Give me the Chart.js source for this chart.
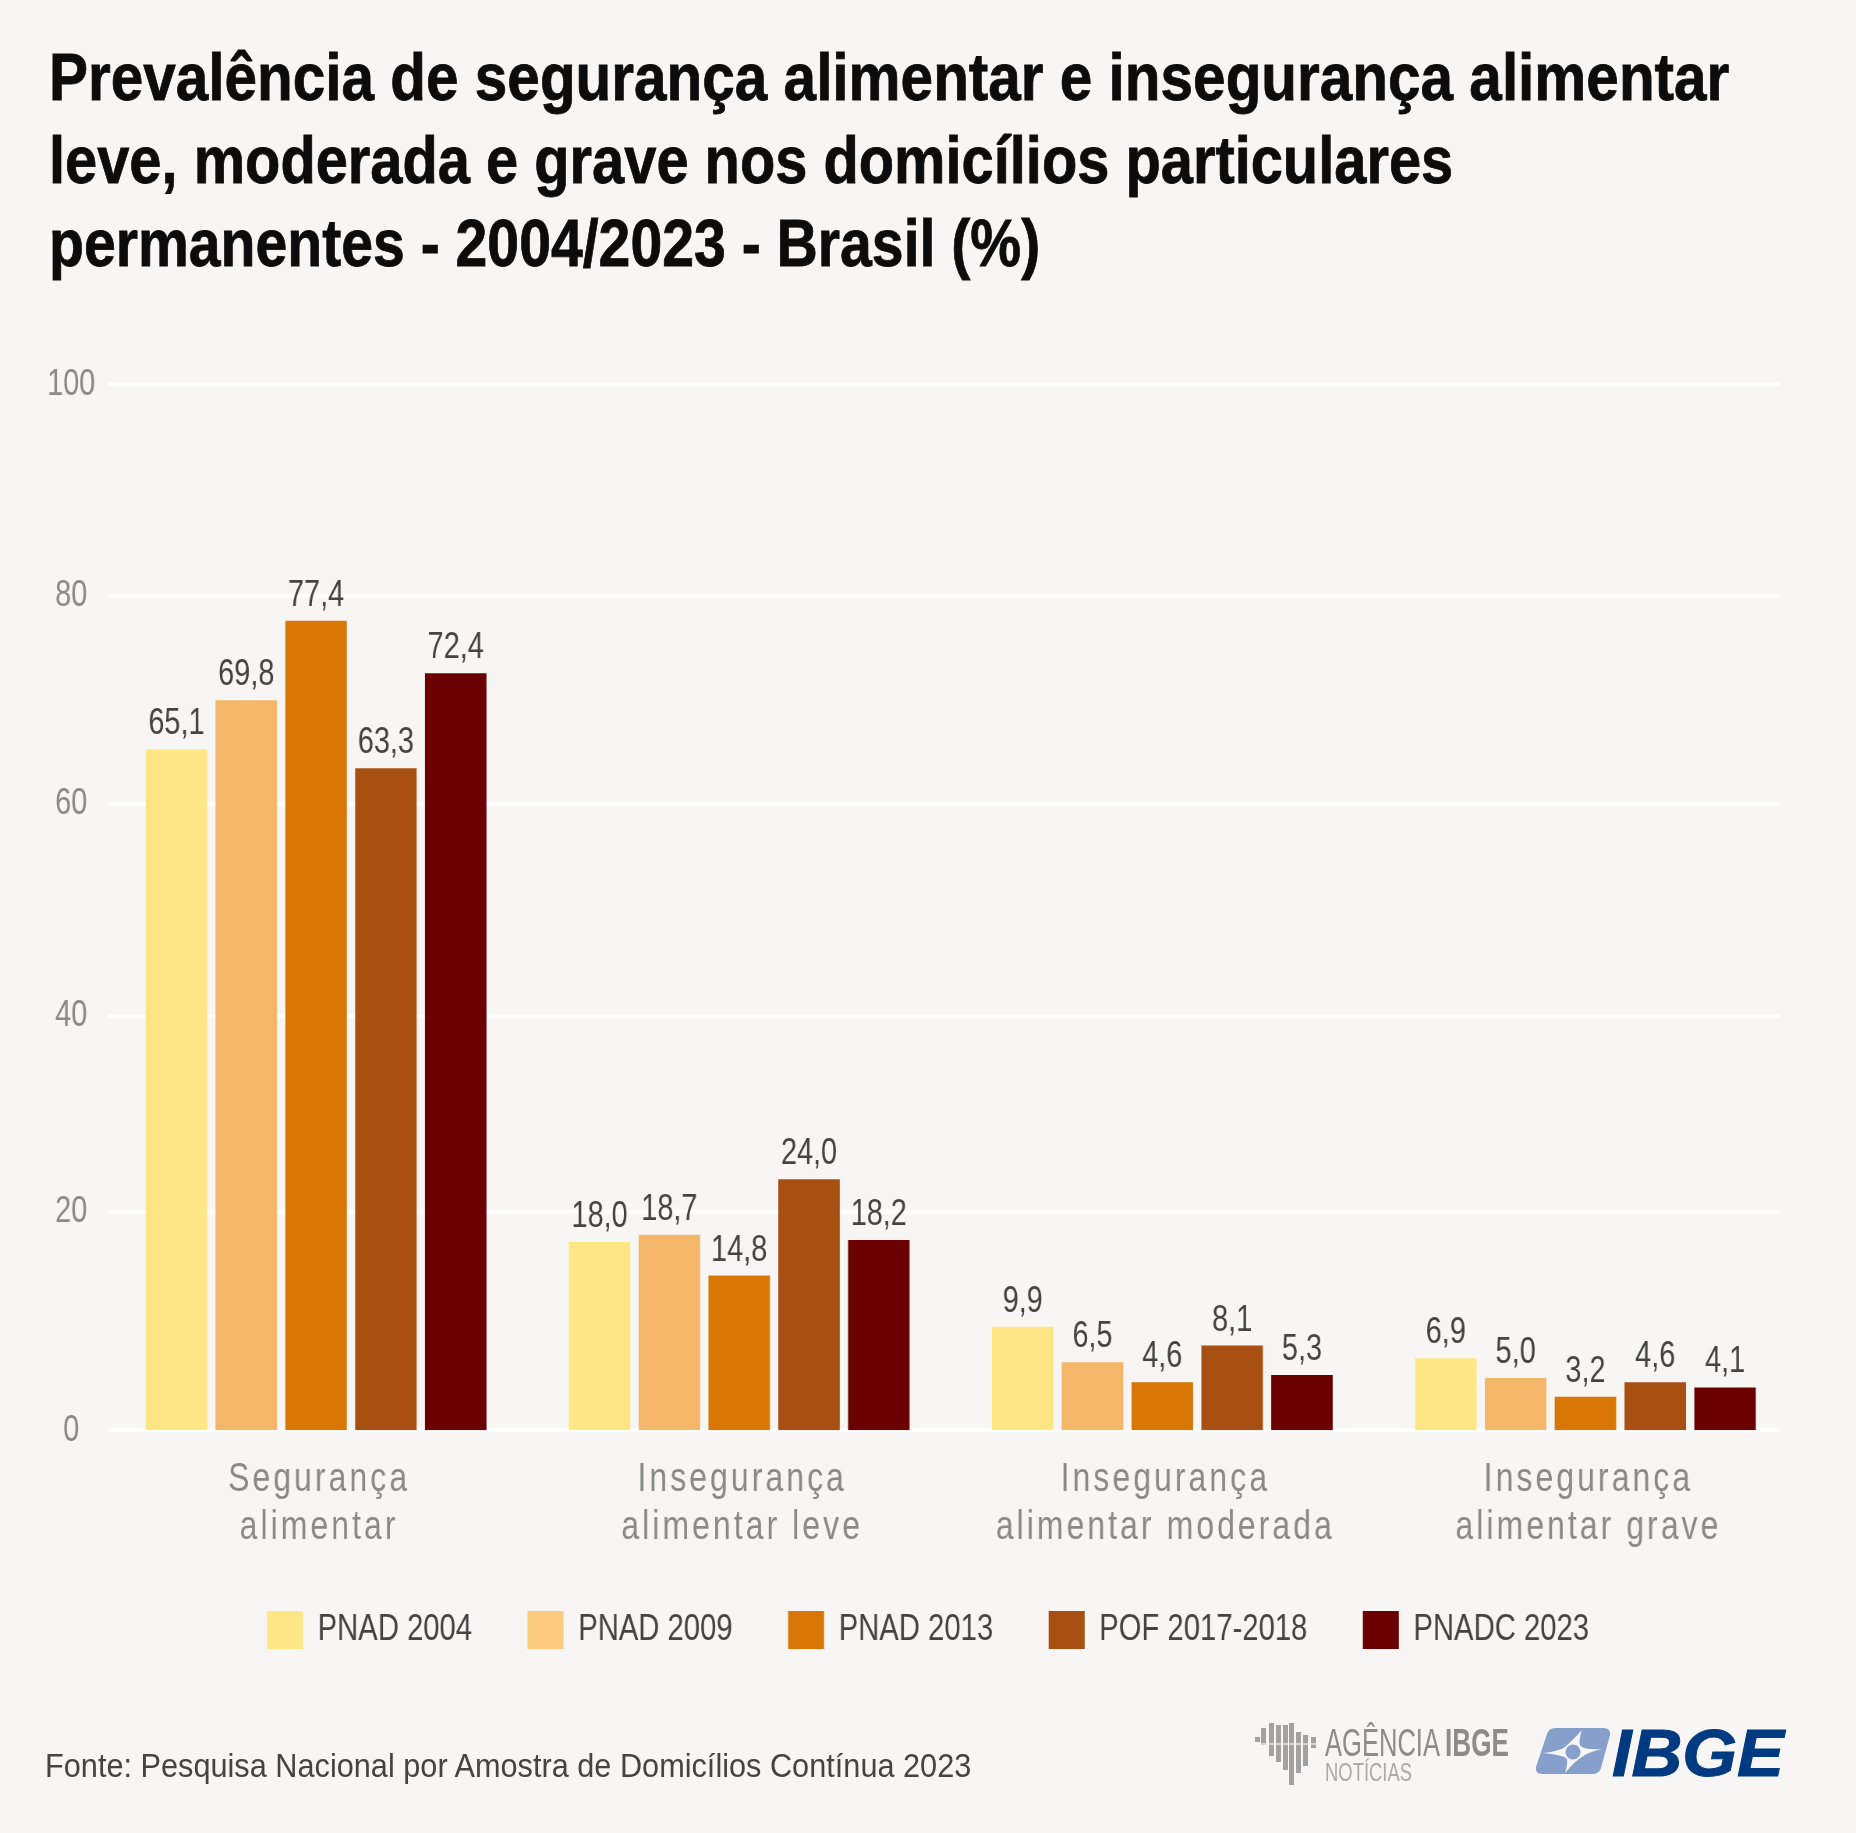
<!DOCTYPE html>
<html lang="pt-BR">
<head>
  <meta charset="UTF-8">
  <title>Prevalência de segurança alimentar</title>
  <script src="https://cdn.jsdelivr.net/npm/chart.js"></script>
  <style>
    html, body { margin: 0; background: #f7f6f5; }
    #page { position: relative; width: 1856px; height: 1833px; overflow: hidden; font-family: "Liberation Sans", sans-serif; }
    /* no condensed font installed: the canvas is drawn wider and squeezed, which condenses its text */
    canvas { position: absolute; left: 0; top: 0; transform-origin: left top; }
    h1 { position: absolute; left: 49px; top: 35.5px; margin: 0; font-size: 66px; line-height: 83px; font-weight: bold; color: #0c0c0c; white-space: nowrap; -webkit-text-stroke: 0.8px #0c0c0c; }
    h1 span { display: block; transform-origin: left top; }
    #fonte { position: absolute; left: 45px; top: 1743.5px; font-size: 33px; line-height: 44px; color: #444; white-space: nowrap; transform: scaleX(0.93); transform-origin: left top; }
    #logos { position: absolute; left: 1240px; top: 1710px; }
  </style>
</head>
<body>
  <div id="page">
    <canvas id="chart"></canvas>
    <h1><span style="transform: scaleX(0.886)">Prevalência de segurança alimentar e insegurança alimentar</span><span style="transform: scaleX(0.876)">leve, moderada e grave nos domicílios particulares</span><span style="transform: scaleX(0.866)">permanentes - 2004/2023 - Brasil (%)</span></h1>
    <div id="fonte">Fonte: Pesquisa Nacional por Amostra de Domicílios Contínua 2023</div>
    <svg id="logos" width="560" height="90" viewBox="0 0 560 90">
      <g fill="#a2a2a2">
        <rect x="15" y="27" width="5" height="5"/><rect x="21" y="18" width="5" height="17"/><rect x="29" y="13" width="5" height="33"/>
        <rect x="36" y="15" width="5" height="37"/><rect x="43" y="15" width="5" height="45"/><rect x="49" y="13" width="5" height="62"/>
        <rect x="56" y="22" width="5" height="41"/><rect x="63" y="25" width="5" height="31"/><rect x="71" y="27" width="5" height="11"/>
      </g>
      <rect x="15" y="33" width="61" height="2" fill="#f7f6f5" opacity="0.6"/>
      <text x="85" y="46" font-size="38" fill="#8c8c8c" textLength="115" lengthAdjust="spacingAndGlyphs">AGÊNCIA</text>
      <text x="205" y="46" font-weight="bold" font-size="38" fill="#8c8c8c" textLength="64" lengthAdjust="spacingAndGlyphs">IBGE</text>
      <text x="85" y="71" font-size="26" fill="#aaaaaa" textLength="87" lengthAdjust="spacingAndGlyphs">NOTÍCIAS</text>
      <path d="M307 24 Q309 18 315 18 H363 Q371 18 370 25 L361 58 Q359 64 352 64 H302 Q295 64 296 57 Z" fill="#86a0cb"/>
      <path d="M342 20 Q337 35 342 37 Q347 40 362 39 Q346 43 342 47 Q336 50 325 63 Q329 50 326 48 Q322 45 303 43 Q320 41 325 37 Q331 32 342 20 Z" fill="#f7f6f5"/>
      <circle cx="333" cy="42" r="7.5" fill="#86a0cb"/>
      <text x="372" y="66" font-weight="bold" font-style="italic" font-size="66" fill="#003a80" stroke="#003a80" stroke-width="1" textLength="172" lengthAdjust="spacingAndGlyphs">IBGE</text>
    </svg>
  </div>

  <script>
    const categories = [
      ['Segurança', 'alimentar'],
      ['Insegurança', 'alimentar leve'],
      ['Insegurança', 'alimentar moderada'],
      ['Insegurança', 'alimentar grave']
    ];
    const seriesNames = ['PNAD 2004', 'PNAD 2009', 'PNAD 2013', 'POF 2017-2018', 'PNADC 2023'];
    const pnad2004 = [65.1, 18.0, 9.9, 6.9];
    const pnad2009 = [69.8, 18.7, 6.5, 5.0];
    const pnad2013 = [77.4, 14.8, 4.6, 3.2];
    const pof2017 = [63.3, 24.0, 8.1, 4.6];
    const pnadc2023 = [72.4, 18.2, 5.3, 4.1];
    const barColors = ['#ffe684', '#f4b769', '#d97706', '#a84f12', '#6b0000'];
    const legendColors = ['#ffe684', '#fdcb7f', '#d97706', '#a84f12', '#6b0000'];
    // the original's grid is spaced by hand, so the lines do not fall exactly on round values
    const tickValues = [0, 20.9, 39.6, 59.9, 79.8, 100];
    const tickLabels = ['0', '20', '40', '60', '80', '100'];

    const FONT = '"Liberation Sans", sans-serif';
    const canvasWidth = 2380;
    const squeeze = 1856 / canvasWidth;
    const px = v => v / squeeze;

    const canvas = document.getElementById('chart');
    canvas.width = canvasWidth;
    canvas.height = 1833;
    canvas.style.transform = `scaleX(${squeeze})`;

    // the scales clip their labels to their own box, which is tighter here than the labels
    const unclipLabels = {
      id: 'unclipLabels',
      afterLayout(chart) {
        chart.scales.y.left = 0;
        chart.scales.x.bottom = chart.height;
      }
    };

    const gridLines = {
      id: 'gridLines',
      beforeDatasetsDraw(chart) {
        const { ctx, chartArea, scales } = chart;
        ctx.save();
        ctx.strokeStyle = '#ffffff';
        ctx.lineWidth = 4;
        scales.y.ticks.forEach(t => {
          const y = scales.y.getPixelForValue(t.value);
          ctx.beginPath();
          ctx.moveTo(chartArea.left + px(4), y);
          ctx.lineTo(chartArea.right - px(17), y);
          ctx.stroke();
        });
        ctx.restore();
      }
    };

    const valueLabels = {
      id: 'valueLabels',
      afterDatasetsDraw(chart) {
        const { ctx } = chart;
        ctx.save();
        ctx.font = '37px ' + FONT;
        ctx.fillStyle = '#444444';
        ctx.textAlign = 'center';
        ctx.textBaseline = 'alphabetic';
        chart.data.datasets.forEach((ds, i) => {
          chart.getDatasetMeta(i).data.forEach((bar, j) => {
            ctx.fillText(ds.data[j].toFixed(1).replace('.', ','), bar.x, bar.y - 15);
          });
        });
        ctx.restore();
      }
    };

    new Chart(canvas, {
      type: 'bar',
      data: {
        labels: categories,
        datasets: [pnad2004, pnad2009, pnad2013, pof2017, pnadc2023].map((values, i) => ({
          label: seriesNames[i],
          data: values,
          backgroundColor: barColors[i],
          categoryPercentage: 0.825,
          barPercentage: 0.881
        }))
      },
      options: {
        responsive: false,
        animation: false,
        layout: { autoPadding: false, padding: { top: 384.5, left: px(59), right: px(59), bottom: 174 } },
        scales: {
          x: {
            grid: { display: false },
            border: { display: false },
            ticks: { color: '#8a8a8a', font: { family: FONT, size: 41, lineHeight: 1.17 }, padding: 17, maxRotation: 0, autoSkip: false },
            afterFit(scale) { scale.height = 109.5; },
            // the category labels are more widely tracked than the other texts
            afterUpdate(scale) {
              const drawLabels = scale.drawLabels.bind(scale);
              scale.drawLabels = area => {
                const ctx = scale.ctx;
                ctx.save();
                ctx.letterSpacing = '3.9px';
                ctx.translate(px(3), 0);
                drawLabels(area);
                ctx.restore();
              };
            }
          },
          y: {
            min: 0,
            max: 100,
            grid: { display: false },
            border: { display: false },
            afterBuildTicks(scale) { scale.ticks = tickValues.map(value => ({ value })); },
            afterFit(scale) { scale.width = px(45.5); },
            ticks: {
              color: '#8a8a8a',
              font: { family: FONT, size: 37 },
              padding: px(3),
              crossAlign: 'center',
              callback: (value, index) => tickLabels[index]
            }
          }
        },
        plugins: {
          title: { display: false },
          tooltip: { enabled: false },
          legend: {
            position: 'bottom',
            labels: {
              boxWidth: px(36),
              boxHeight: 38,
              padding: px(55.5),
              color: '#444444',
              font: { family: FONT, size: 37.5 },
              generateLabels: chart => chart.data.datasets.map((ds, i) => ({
                text: ds.label,
                fillStyle: legendColors[i],
                strokeStyle: legendColors[i],
                lineWidth: 0,
                fontColor: '#444444',
                datasetIndex: i
              }))
            }
          }
        }
      },
      plugins: [unclipLabels, gridLines, valueLabels]
    });
  </script>
</body>
</html>
